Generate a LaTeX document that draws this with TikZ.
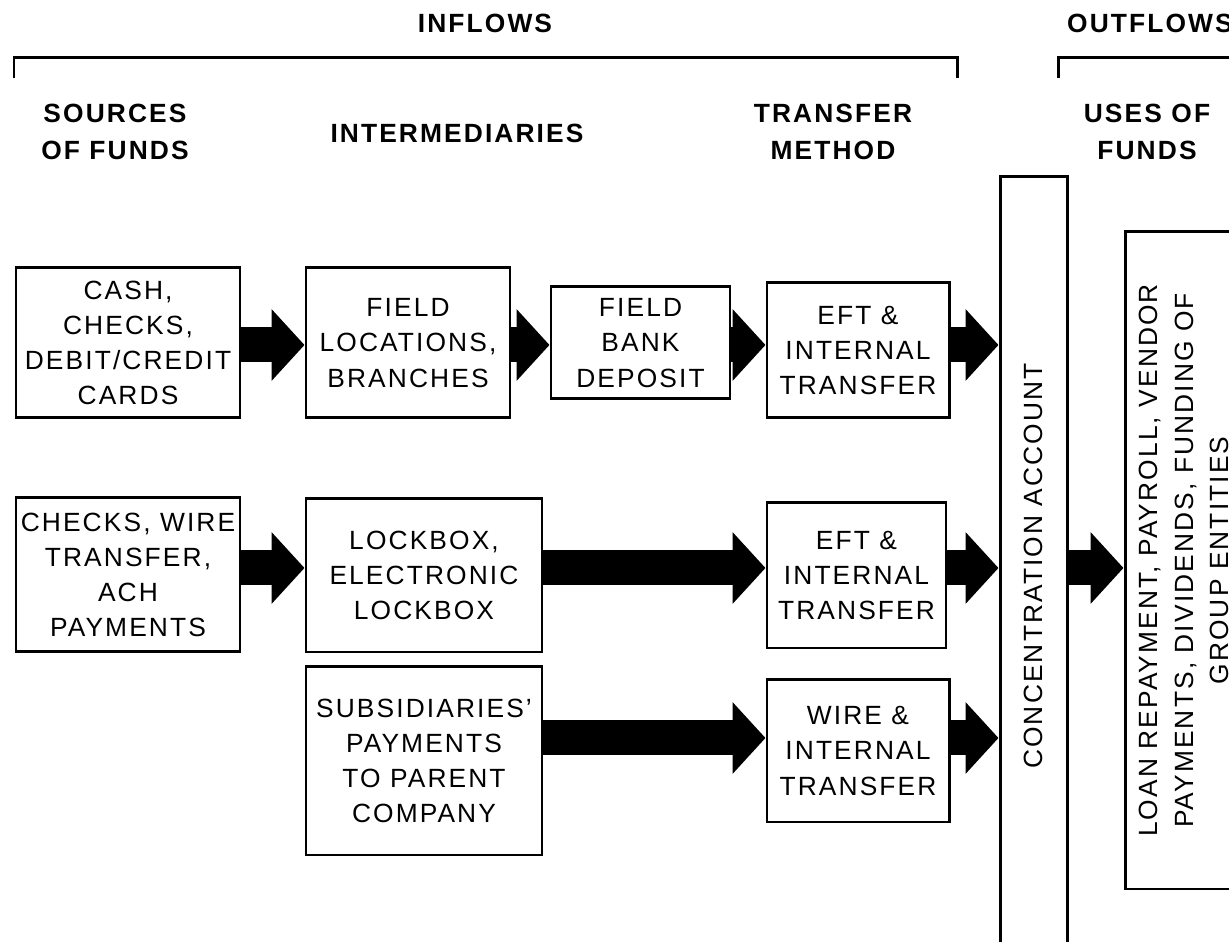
\documentclass[tikz,border=0pt]{standalone}
\usepackage{fontspec}
\setmainfont{Liberation Sans}[LetterSpace=8]
\usetikzlibrary{arrows.meta}
\newcommand{\diagfont}{\fontsize{7.5}{10}\selectfont}
\newcommand{\diaghead}{\fontsize{7.5}{10.5}\selectfont\bfseries}
\tikzset{
  box/.style={draw, line width=0.85pt, inner sep=1pt, align=center, font=\diagfont},
  heading/.style={align=center, font=\diaghead},
  flow/.style={line width=0.35cm, -{Triangle[length=0.33cm,width=0.70cm]}},
  bracket/.style={line width=0.85pt},
}
\begin{document}
\begin{tikzpicture}
    \useasboundingbox (0,0) rectangle (12.29,-9.42);
    \clip (0,0) rectangle (12.29,-9.42);

    \node[heading] (inflows) at (4.85,-0.23) {INFLOWS};
    \node[heading] (outflows) at (11.50,-0.23) {OUTFLOWS};
    \draw[bracket] (0.14,-0.78) |- (9.57,-0.58) -- (9.57,-0.78);
    \draw[bracket] (10.58,-0.78) |- (12.50,-0.58);

    \node[heading] (sources) at (1.15,-1.315) {SOURCES\\OF FUNDS};
    \node[heading] (inter) at (4.57,-1.33) {INTERMEDIARIES};
    \node[heading] (method) at (8.33,-1.315) {TRANSFER\\METHOD};
    \node[heading] (usesh) at (11.47,-1.315) {USES OF\\FUNDS};

    \node[box, minimum width=2.24cm, minimum height=1.50cm] (cash) at (1.28,-3.43) {CASH,\\CHECKS,\\DEBIT/CREDIT\\CARDS};
    \node[box, minimum width=2.04cm, minimum height=1.50cm] (field) at (4.08,-3.43) {FIELD\\LOCATIONS,\\BRANCHES};
    \node[box, minimum width=1.79cm, minimum height=1.12cm] (bank) at (6.405,-3.43) {FIELD\\BANK\\DEPOSIT};
    \node[box, minimum width=1.82cm, minimum height=1.35cm] (eft1) at (8.58,-3.505) {EFT \&\\INTERNAL\\TRANSFER};

    \node[box, minimum width=2.24cm, minimum height=1.54cm] (checks) at (1.28,-5.75) {CHECKS, WIRE\\TRANSFER,\\ACH\\PAYMENTS};
    \node[box, minimum width=2.36cm, minimum height=1.53cm] (lockbox) at (4.24,-5.755) {LOCKBOX,\\ELECTRONIC\\LOCKBOX};
    \node[box, minimum width=1.79cm, minimum height=1.45cm] (eft2) at (8.565,-5.755) {EFT \&\\INTERNAL\\TRANSFER};

    \node[box, minimum width=2.36cm, minimum height=1.88cm] (subs) at (4.24,-7.61) {SUBSIDIARIES'\\PAYMENTS\\TO PARENT\\COMPANY};
    \node[box, minimum width=1.82cm, minimum height=1.42cm] (wire) at (8.58,-7.51) {WIRE \&\\INTERNAL\\TRANSFER};

    \node[box, rotate=90, minimum width=7.78cm, minimum height=0.67cm] (conc) at (10.335,-5.66) {CONCENTRATION ACCOUNT};
    \node[box, rotate=90, minimum width=6.57cm, minimum height=1.18cm] (uses) at (11.84,-5.605) {LOAN REPAYMENT, PAYROLL, VENDOR\\PAYMENTS, DIVIDENDS, FUNDING OF\\GROUP ENTITIES};

    \coordinate (r1) at (0,-3.45);
    \coordinate (r2) at (0,-5.68);
    \coordinate (r3) at (0,-7.38);

    \draw[flow] (cash.east |- r1) -- (field.west |- r1); \draw[flow] (field.east |- r1) -- (bank.west |- r1);
    \draw[flow] (bank.east |- r1) -- (eft1.west |- r1); \draw[flow] (eft1.east |- r1) -- (conc.north |- r1);
    \draw[flow] (checks.east |- r2) -- (lockbox.west |- r2); \draw[flow] (lockbox.east |- r2) -- (eft2.west |- r2);
    \draw[flow] (eft2.east |- r2) -- (conc.north |- r2);
    \draw[flow] (subs.east |- r3) -- (wire.west |- r3); \draw[flow] (wire.east |- r3) -- (conc.north |- r3);
    \draw[flow] (conc.south |- r2) -- (uses.north |- r2);
\end{tikzpicture}
\end{document}
